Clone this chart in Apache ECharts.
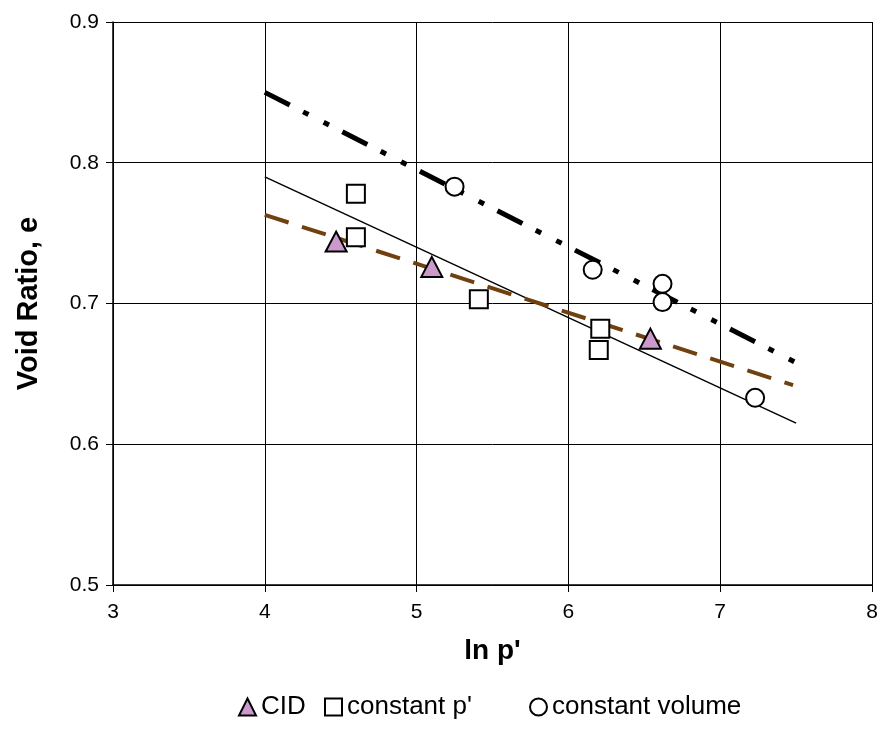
<!DOCTYPE html>
<html>
<head>
<meta charset="utf-8">
<script src="https://cdn.jsdelivr.net/npm/echarts@6/dist/echarts.min.js"></script>
<style>html,body{margin:0;padding:0;background:#fff}#c{width:884px;height:745px}</style>
</head>
<body>
<div id="c"></div>
<script>
// Data
const cidX = [4.47, 5.10, 6.54];
const cidY = [0.744, 0.726, 0.675];
const cpX = [4.60, 4.60, 5.41, 6.21, 6.20];
const cpY = [0.778, 0.747, 0.703, 0.682, 0.667];
const cvX = [5.25, 6.16, 6.62, 6.62, 7.23];
const cvY = [0.783, 0.724, 0.714, 0.701, 0.633];
// trend lines (end points)
const lineCvX = [4.0, 7.5];
const lineCvY = [0.850, 0.658];
const lineAllX = [4.0, 7.5];
const lineAllY = [0.790, 0.615];
const lineCidX = [4.0, 7.48];
const lineCidY = [0.763, 0.642];
const xTicks = [3, 4, 5, 6, 7, 8];
const yTicks = [0.5, 0.6, 0.7, 0.8, 0.9];
const legendNames = ['CID', "constant p'", 'constant volume'];

const pairs = (xs, ys) => xs.map((x, i) => [x, ys[i]]);
const FONT = "Arial, 'Liberation Sans', sans-serif";
const legendLefts = [233, 319, 524];
const legendIcons = ['triangle', 'rect', 'circle'];

const chart = echarts.init(document.getElementById('c'), null, {renderer: 'canvas'});
chart.setOption({
  animation: false,
  backgroundColor: '#fff',
  grid: {left: 113, top: 22, width: 759, height: 563, containLabel: false, show: false},
  xAxis: {
    type: 'value', min: xTicks[0], max: xTicks[xTicks.length - 1], interval: 1,
    name: "ln p'", nameLocation: 'middle', nameGap: 52,
    nameTextStyle: {fontFamily: FONT, fontSize: 28, fontWeight: 'bold', color: '#000'},
    axisLine: {show: true, onZero: false, lineStyle: {color: '#000', width: 1.5}},
    axisTick: {show: true, length: 7, lineStyle: {color: '#000'}},
    axisLabel: {fontFamily: FONT, fontSize: 21, color: '#000', margin: 17},
    splitLine: {show: true, lineStyle: {color: '#000', width: 1}}
  },
  yAxis: {
    type: 'value', min: yTicks[0], max: yTicks[yTicks.length - 1], interval: 0.1,
    name: 'Void Ratio, e', nameLocation: 'middle', nameGap: 70,
    nameTextStyle: {fontFamily: FONT, fontSize: 29, fontWeight: 'bold', color: '#000'},
    axisLine: {show: true, onZero: false, lineStyle: {color: '#000', width: 1.5}},
    axisTick: {show: true, length: 7, lineStyle: {color: '#000'}},
    axisLabel: {fontFamily: FONT, fontSize: 21, color: '#000', margin: 14,
      formatter: v => v.toFixed(1)},
    splitLine: {show: true, lineStyle: {color: '#000', width: 1}}
  },
  legend: legendNames.map((n, i) => ({
    top: 689, left: legendLefts[i], itemWidth: 17, itemHeight: 17, itemGap: 6,
    textStyle: {fontFamily: FONT, fontSize: 26, color: '#000'},
    data: [{name: n, icon: legendIcons[i]}]
  })),
  series: [
    {type: 'line', name: 'fit-cv', data: pairs(lineCvX, lineCvY), symbol: 'none', z: 2,
      lineStyle: {color: '#000', width: 5, type: [28, 15, 6, 17, 6, 15], cap: 'butt'}},
    {type: 'line', name: 'fit-all', data: pairs(lineAllX, lineAllY), symbol: 'none', z: 2,
      lineStyle: {color: '#000', width: 1.5}},
    {type: 'line', name: 'fit-cid', data: pairs(lineCidX, lineCidY), symbol: 'none', z: 2,
      lineStyle: {color: '#70400F', width: 4, type: [25, 14], cap: 'butt'}},
    {type: 'scatter', name: legendNames[0], data: pairs(cidX, cidY), symbol: 'triangle', symbolSize: [21, 20], z: 5,
      itemStyle: {color: '#CC99CC', borderColor: '#000', borderWidth: 2, opacity: 1}},
    {type: 'scatter', name: legendNames[1], data: pairs(cpX, cpY), symbol: 'rect', symbolSize: 18, z: 5,
      itemStyle: {color: '#fff', borderColor: '#000', borderWidth: 2, opacity: 1}},
    {type: 'scatter', name: legendNames[2], data: pairs(cvX, cvY), symbol: 'circle', symbolSize: 18, z: 5,
      itemStyle: {color: '#fff', borderColor: '#000', borderWidth: 2, opacity: 1}}
  ]
});
</script>
</body>
</html>
